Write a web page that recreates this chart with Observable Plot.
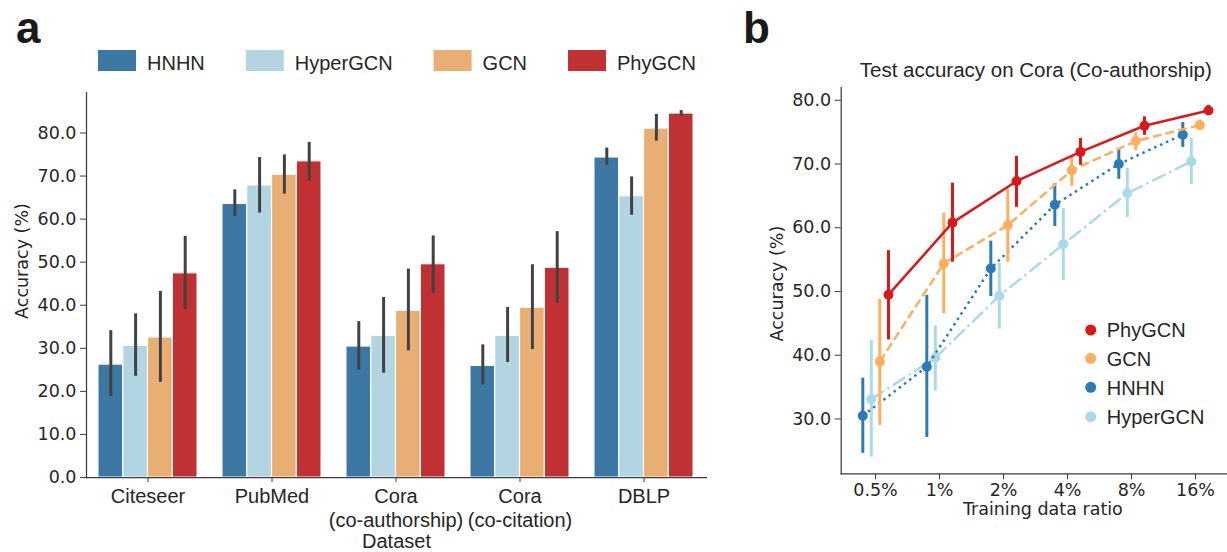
<!DOCTYPE html>
<html><head><meta charset="utf-8">
<script src="https://cdn.jsdelivr.net/npm/d3@7"></script>
<script src="https://cdn.jsdelivr.net/npm/@observablehq/plot@0.6"></script>
<style>
html,body{margin:0;padding:0;background:#fff;overflow:hidden}
#root{position:relative;width:1227px;height:552px;overflow:hidden;background:#fff}
#root > *{position:absolute}
</style></head><body><div id="root"></div>
<script>
// ---------- Panel a data ----------
const datasets = ["Citeseer", "PubMed", "Cora\n(co-authorship)", "Cora\n(co-citation)", "DBLP"];
const models = ["HNHN", "HyperGCN", "GCN", "PhyGCN"];
const hnhnAcc = [26.2, 63.5, 30.4, 25.9, 74.3];
const hnhnLo  = [18.8, 60.6, 24.9, 21.5, 72.5];
const hnhnHi  = [34.1, 66.8, 36.2, 30.8, 76.5];
const hypergcnAcc = [30.6, 67.8, 32.9, 32.9, 65.3];
const hypergcnLo  = [23.5, 61.4, 24.2, 26.7, 60.9];
const hypergcnHi  = [38.0, 74.3, 41.8, 39.5, 69.8];
const gcnAcc = [32.5, 70.3, 38.7, 39.4, 81.0];
const gcnLo  = [22.1, 65.8, 29.4, 29.7, 78.1];
const gcnHi  = [43.2, 74.9, 48.4, 49.4, 84.3];
const phygcnAcc = [47.4, 73.4, 49.5, 48.7, 84.5];
const phygcnLo  = [38.9, 68.9, 42.8, 40.5, 83.9];
const phygcnHi  = [56.0, 77.8, 56.1, 57.1, 85.2];
const barTicks = [0, 10, 20, 30, 40, 50, 60, 70, 80];

// ---------- Panel b data ----------
const ratios = ["0.5%", "1%", "2%", "4%", "8%", "16%"];
const lineModels = ["PhyGCN", "GCN", "HNHN", "HyperGCN"];
const phyCora = [49.5, 60.8, 67.3, 71.9, 76.0, 78.4];
const phyCoraLo = [42.4, 54.6, 63.2, 69.8, 74.5, 77.8];
const phyCoraHi = [56.4, 67.0, 71.2, 74.0, 77.4, 79.2];
const gcnCora = [39.0, 54.4, 60.4, 69.0, 73.6, 76.1];
const gcnCoraLo = [29.0, 46.5, 54.6, 66.5, 72.1, 75.4];
const gcnCoraHi = [48.8, 62.3, 66.1, 71.2, 74.9, 76.9];
const hnhnCora = [30.5, 38.2, 53.6, 63.6, 70.0, 74.6];
const hnhnCoraLo = [24.6, 27.1, 49.2, 60.2, 67.6, 72.6];
const hnhnCoraHi = [36.4, 49.4, 57.9, 66.9, 72.3, 76.5];
const hyperCora = [33.1, 39.6, 49.3, 57.4, 65.4, 70.4];
const hyperCoraLo = [24.0, 34.4, 44.1, 51.7, 61.6, 66.8];
const hyperCoraHi = [42.3, 44.6, 54.4, 63.0, 69.3, 74.0];
const lineTicks = [30, 40, 50, 60, 70, 80];

// ---------- styles ----------
const ink = "#262626";
const spine = "#3d3d3d";
const numFont = "DejaVu Sans, sans-serif";
const txtFont = "Liberation Sans, Arial, sans-serif";
const barColors = ["#3d78a5", "#b3d5e1", "#e9ae74", "#bf3133"];
const lineColors = {PhyGCN: "#d7191c", GCN: "#fdae61", HNHN: "#2c7bb6", HyperGCN: "#abd9e9"};
const lineDash = {PhyGCN: null, GCN: "9,4", HNHN: "2.5,4", HyperGCN: "15,4,2.5,4"};
const dodge = {PhyGCN: 13, GCN: 4.3, HNHN: -12.7, HyperGCN: -4.2};

const root = document.getElementById("root");

// ---------- Panel a ----------
const barSeries = [
  {acc: hnhnAcc, lo: hnhnLo, hi: hnhnHi},
  {acc: hypergcnAcc, lo: hypergcnLo, hi: hypergcnHi},
  {acc: gcnAcc, lo: gcnLo, hi: gcnHi},
  {acc: phygcnAcc, lo: phygcnLo, hi: phygcnHi}
].map((s, k) => datasets.map((d, i) => ({dataset: d, model: models[k], acc: s.acc[i], lo: s.lo[i], hi: s.hi[i]})));

const W1 = 720, H1 = 472, mL1 = 86, mR1 = 14, mT1 = 12, mB1 = 75;
const pIn = 0.2, pOut = 0.1;
const step1 = (W1 - mL1 - mR1) / (datasets.length - pIn + 2 * pOut);
const bw1 = step1 * (1 - pIn);
const barW = bw1 / models.length;

const marksA = [];
barSeries.forEach((rows, k) => {
  marksA.push(Plot.barY(rows, {x: "dataset", y: "acc", fill: barColors[k], stroke: "white", strokeWidth: 1,
    insetLeft: k * barW, insetRight: (models.length - 1 - k) * barW}));
});
barSeries.forEach((rows, k) => {
  marksA.push(Plot.ruleX(rows, {x: "dataset", y1: "lo", y2: "hi", dx: (k + 0.5) * barW - bw1 / 2,
    stroke: "#424242", strokeWidth: 3}));
});
marksA.push(
  Plot.frame({anchor: "left", stroke: spine, strokeWidth: 1.25}),
  Plot.frame({anchor: "bottom", stroke: spine, strokeWidth: 1.25}),
  Plot.axisY({ticks: barTicks, tickFormat: d3.format(".1f"), tickSize: 6, tickPadding: 4,
    fontSize: 17.5, fontFamily: numFont, label: null, stroke: spine}),
  Plot.axisX({tickSize: 5, tickPadding: 3, fontSize: 20, fontFamily: txtFont, lineHeight: 1.22,
    label: null, stroke: spine}),
  Plot.text(["Accuracy (%)"], {text: d => d, frameAnchor: "left", rotate: -90, dx: -64, dy: -24,
    textAnchor: "middle", lineAnchor: "middle", fontSize: 17.5, fontFamily: numFont, fill: ink}),
  Plot.text(["Dataset"], {text: d => d, frameAnchor: "bottom", dy: 64, textAnchor: "middle",
    lineAnchor: "middle", fontSize: 20, fontFamily: txtFont, fill: ink})
);

const chartA = Plot.plot({
  width: W1, height: H1, marginLeft: mL1, marginRight: mR1, marginTop: mT1, marginBottom: mB1,
  style: {color: ink, background: "transparent", overflow: "visible"},
  x: {type: "band", domain: datasets, paddingInner: pIn, paddingOuter: pOut, axis: null},
  y: {domain: [0, 89.4], axis: null},
  marks: marksA
});
chartA.style.left = "0px";
chartA.style.top = "80px";
root.appendChild(chartA);

// ---------- Panel b ----------
const lineSeries = {
  PhyGCN: {acc: phyCora, lo: phyCoraLo, hi: phyCoraHi},
  GCN: {acc: gcnCora, lo: gcnCoraLo, hi: gcnCoraHi},
  HNHN: {acc: hnhnCora, lo: hnhnCoraLo, hi: hnhnCoraHi},
  HyperGCN: {acc: hyperCora, lo: hyperCoraLo, hi: hyperCoraHi}
};
const W2 = 515, H2 = 492, mL2 = 110.7, mR2 = 1, mT2 = 27, mB2 = 78.7;
const bandStep2 = 64.875;
const marksB = [
  Plot.frame({anchor: "left", stroke: spine, strokeWidth: 1.25}),
  Plot.frame({anchor: "bottom", stroke: spine, strokeWidth: 1.25})
];
["HyperGCN", "HNHN", "GCN", "PhyGCN"].forEach(m => {
  const s = lineSeries[m];
  const rows = ratios.map((r, i) => ({ratio: r, acc: s.acc[i], lo: s.lo[i], hi: s.hi[i]}));
  marksB.push(
    Plot.line(rows, {x: "ratio", y: "acc", dx: dodge[m], stroke: lineColors[m], strokeWidth: 2.5,
      strokeDasharray: lineDash[m], strokeLinecap: "butt"}),
    Plot.ruleX(rows, {x: "ratio", y1: "lo", y2: "hi", dx: dodge[m], stroke: lineColors[m], strokeWidth: 3}),
    Plot.dot(rows, {x: "ratio", y: "acc", dx: dodge[m], r: 5, fill: lineColors[m], stroke: null})
  );
});
marksB.push(
  Plot.axisY({ticks: lineTicks, tickFormat: d3.format(".1f"), tickSize: 6, tickPadding: 4,
    fontSize: 17.5, fontFamily: numFont, label: null, stroke: spine}),
  Plot.axisX({tickSize: 6, tickPadding: 4, fontSize: 17.5, fontFamily: numFont, label: null, stroke: spine}),
  Plot.text(["Accuracy (%)"], {text: d => d, frameAnchor: "left", rotate: -90, dx: -64.2, dy: 3,
    textAnchor: "middle", lineAnchor: "middle", fontSize: 17.5, fontFamily: numFont, fill: ink}),
  Plot.text(["Training data ratio"], {text: d => d, frameAnchor: "bottom", dy: 36, textAnchor: "middle",
    lineAnchor: "middle", fontSize: 17.5, fontFamily: numFont, fill: ink})
);
const chartB = Plot.plot({
  width: W2, height: H2, marginLeft: mL2, marginRight: mR2, marginTop: mT2, marginBottom: mB2,
  style: {color: ink, background: "transparent", overflow: "visible"},
  x: {type: "band", domain: ratios, padding: 0, range: [mL2 + 0.15, mL2 + 0.15 + bandStep2 * ratios.length], axis: null},
  y: {domain: [21.4, 82.0], axis: null},
  marks: marksB
});
chartB.style.left = "730px";
chartB.style.top = "60px";
root.appendChild(chartB);

// ---------- Annotations: panel letters, legends, title ----------
const ov = d3.select(root).append("svg")
  .attr("width", 1227).attr("height", 552)
  .style("left", "0px").style("top", "0px").style("pointer-events", "none");

ov.append("text").attr("x", 16).attr("y", 42.5).text("a")
  .attr("font-family", txtFont).attr("font-weight", "bold").attr("font-size", 44).attr("fill", "#1a1a1a");
ov.append("text").attr("x", 743).attr("y", 43.3).text("b")
  .attr("font-family", txtFont).attr("font-weight", "bold").attr("font-size", 44).attr("fill", "#1a1a1a");

// left legend
let lx = 98;
models.forEach((m, k) => {
  ov.append("rect").attr("x", lx).attr("y", 50).attr("width", 38).attr("height", 21).attr("fill", barColors[k]);
  const t = ov.append("text").attr("x", lx + 49).attr("y", 69.5).text(m)
    .attr("font-family", txtFont).attr("font-size", 20).attr("fill", ink);
  lx = lx + 49 + t.node().getComputedTextLength() + 41;
});

// right title
ov.append("text").attr("x", 1035.8).attr("y", 77).attr("text-anchor", "middle")
  .text("Test accuracy on Cora (Co-authorship)")
  .attr("font-family", txtFont).attr("font-size", 20.5).attr("fill", ink);

// right legend
const legY = [330, 358.3, 387.3, 416.7];
lineModels.forEach((m, i) => {
  ov.append("circle").attr("cx", 1090.7).attr("cy", legY[i]).attr("r", 5.5).attr("fill", lineColors[m]);
  ov.append("text").attr("x", 1106.7).attr("y", legY[i] + 7.2).text(m)
    .attr("font-family", txtFont).attr("font-size", 20).attr("fill", ink);
});
</script></body></html>
